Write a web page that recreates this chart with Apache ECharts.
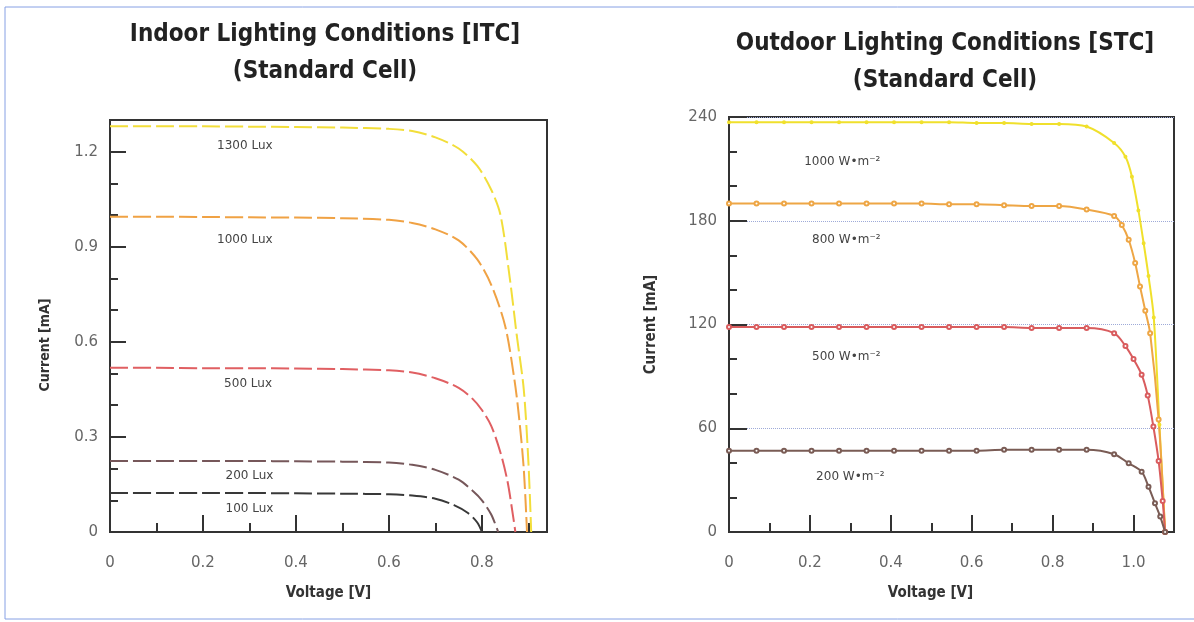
<!DOCTYPE html>
<html>
<head>
<meta charset="utf-8">
<script src="https://cdn.jsdelivr.net/npm/echarts@6/dist/echarts.min.js"></script>
<style>
  html, body { margin: 0; padding: 0; background: #fff; }
  #chart { width: 1194px; height: 622px; }
</style>
</head>
<body>
<div id="chart"></div>
<script>
// indoor (ITC) curves, voltage [V] / current [mA]
const itcNames = ['1300 Lux', '1000 Lux', '500 Lux', '200 Lux', '100 Lux']
const itcV1300 = [0, 0.1, 0.2, 0.3, 0.4, 0.5, 0.6, 0.65, 0.7, 0.75, 0.79, 0.82, 0.84, 0.86, 0.875, 0.89, 0.9, 0.906]
const itcI1300 = [1.28, 1.28, 1.28, 1.279, 1.278, 1.276, 1.272, 1.265, 1.245, 1.21, 1.155, 1.08, 1.0, 0.8, 0.62, 0.45, 0.22, 0]
const itcV1000 = [0, 0.1, 0.2, 0.3, 0.4, 0.5, 0.6, 0.65, 0.7, 0.75, 0.79, 0.82, 0.85, 0.87, 0.88, 0.89, 0.897]
const itcI1000 = [0.995, 0.995, 0.994, 0.993, 0.992, 0.99, 0.985, 0.975, 0.955, 0.92, 0.86, 0.78, 0.65, 0.48, 0.36, 0.2, 0]
const itcV500 = [0, 0.1, 0.2, 0.3, 0.4, 0.5, 0.6, 0.65, 0.7, 0.75, 0.78, 0.8, 0.82, 0.84, 0.855, 0.865, 0.872]
const itcI500 = [0.518, 0.518, 0.517, 0.517, 0.516, 0.514, 0.51, 0.503, 0.485, 0.455, 0.42, 0.385, 0.335, 0.25, 0.16, 0.07, 0]
const itcV200 = [0, 0.1, 0.2, 0.3, 0.4, 0.5, 0.6, 0.65, 0.7, 0.75, 0.78, 0.8, 0.82, 0.835]
const itcI200 = [0.224, 0.224, 0.224, 0.224, 0.223, 0.222, 0.219, 0.212, 0.196, 0.165, 0.13, 0.1, 0.055, 0]
const itcV100 = [0, 0.1, 0.2, 0.3, 0.4, 0.5, 0.6, 0.65, 0.7, 0.74, 0.77, 0.79, 0.8]
const itcI100 = [0.123, 0.123, 0.123, 0.123, 0.122, 0.121, 0.119, 0.115, 0.105, 0.085, 0.06, 0.03, 0]

// outdoor (STC) curves, measured points
const stcNames = ['1000 W•m⁻²', '800 W•m⁻²', '500 W•m⁻²', '200 W•m⁻²']
const stcVFlat = [0, 0.068, 0.136, 0.204, 0.272, 0.34, 0.408, 0.476, 0.544, 0.612, 0.68, 0.748, 0.816, 0.884, 0.952]
const stcV1000 = stcVFlat.concat([0.98, 0.996, 1.012, 1.025, 1.037, 1.05, 1.064, 1.078])
const stcI1000 = [237, 237, 237, 237, 237, 237, 237, 237, 237, 236.5, 236.5, 236, 236, 234.5, 225, 217, 205.5, 186, 167, 148, 124, 62, 0]
const stcV800 = stcVFlat.concat([0.971, 0.988, 1.004, 1.016, 1.029, 1.041, 1.062, 1.078])
const stcI800 = [190, 190, 190, 190, 190, 190, 190, 190, 189.5, 189.5, 189, 188.5, 188.5, 186.5, 182.8, 177.6, 169, 155.6, 142, 128, 115, 65, 0]
const stcV500 = stcVFlat.concat([0.98, 1.0, 1.02, 1.035, 1.049, 1.062, 1.072, 1.078])
const stcI500 = [118.5, 118.5, 118.5, 118.5, 118.5, 118.5, 118.5, 118.5, 118.5, 118.5, 118.5, 118, 118, 118, 115, 107.5, 100, 91, 79, 61, 41, 18, 0]
const stcV200 = stcVFlat.concat([0.988, 1.02, 1.037, 1.053, 1.066, 1.078])
const stcI200 = [47, 47, 47, 47, 47, 47, 47, 47, 47, 47, 47.5, 47.5, 47.5, 47.5, 45, 39.7, 34.9, 26.2, 16.6, 8.9, 0]

// curve label anchors (data space)
const itcLabelAt = [[0.29, 1.219], [0.29, 0.922], [0.297, 0.467], [0.3, 0.177], [0.3, 0.073]]
const stcLabelAt = [[0.28, 214], [0.29, 169], [0.29, 101], [0.3, 32]]

const itcColors = ['#f2de3a', '#f0a244', '#e05f62', '#76575a', '#383838']
const stcColors = ['#f0e02c', '#eea645', '#d95c5e', '#7a5c55']

const pairs = (xs, ys) => xs.map((x, i) => [x, ys[i]])
const itcData = [pairs(itcV1300, itcI1300), pairs(itcV1000, itcI1000), pairs(itcV500, itcI500), pairs(itcV200, itcI200), pairs(itcV100, itcI100)]
const stcData = [pairs(stcV1000, stcI1000), pairs(stcV800, stcI800), pairs(stcV500, stcI500), pairs(stcV200, stcI200)]

const chart = echarts.init(document.getElementById('chart'))

const tickFont = { color: '#666', fontSize: 15, fontFamily: '"DejaVu Sans", sans-serif' }
const nameFont = { color: '#333', fontSize: 15, fontWeight: 'bold', fontFamily: '"Liberation Sans Narrow", "DejaVu Sans Condensed", "Liberation Sans", sans-serif' }
const titleFont = { color: '#222', fontSize: 24, fontWeight: 'bold', lineHeight: 37, fontFamily: '"Liberation Sans Narrow", "DejaVu Sans Condensed", "Liberation Sans", sans-serif' }
const axisDark = { show: true, onZero: false, lineStyle: { color: '#333', width: 2 } }

const fmt = v => (v === 0 ? '0' : v.toFixed(1))

// major axis (labels, long ticks) + minor axis (short ticks) per grid
const majorX = (grid, max, name, namePad) => ({
    type: 'value', gridIndex: grid, position: 'bottom', min: 0, max: max, interval: 0.2,
    name: name, nameLocation: 'middle', nameGap: 54,
    nameTextStyle: Object.assign({ padding: namePad }, nameFont),
    axisLine: axisDark,
    axisTick: { show: true, inside: true, length: 17, lineStyle: { color: '#333', width: 2 } },
    axisLabel: Object.assign({ margin: 24, showMaxLabel: false, formatter: fmt }, tickFont),
    splitLine: { show: false }
})
const minorX = (grid, max) => ({
    type: 'value', gridIndex: grid, position: 'bottom', min: 0, max: max, interval: 0.1,
    axisLine: { show: false },
    axisTick: { show: true, inside: true, length: 9, lineStyle: { color: '#333', width: 2 } },
    axisLabel: { show: false },
    splitLine: { show: false }
})

const option = {
    backgroundColor: '#fff',
    animation: false,
    title: [
        { text: 'Indoor Lighting Conditions [ITC]\n(Standard Cell)', left: 320, top: 11, textAlign: 'center', textStyle: titleFont },
        { text: 'Outdoor Lighting Conditions [STC]\n(Standard Cell)', left: 940, top: 20, textAlign: 'center', textStyle: titleFont }
    ],
    graphic: [{
        type: 'rect', silent: true,
        shape: { x: 5, y: 7, width: 1220, height: 612 },
        style: { fill: 'none', stroke: '#86a0e4', lineWidth: 1 }
    }],
    grid: [
        { left: 110, top: 120, width: 437, height: 412, show: true, borderColor: '#333', borderWidth: 2, outerBoundsMode: 'none', containLabel: false },
        { left: 729, top: 117, width: 445, height: 415, show: true, borderColor: '#333', borderWidth: 2, outerBoundsMode: 'none', containLabel: false }
    ],
    xAxis: [
        majorX(0, 0.94, 'Voltage [V]', [0, 0, 0, 0]),
        minorX(0, 0.94),
        majorX(1, 1.1, 'Voltage [V]', [0, 42, 0, 0]),
        minorX(1, 1.1)
    ],
    yAxis: [
        {
            type: 'value', gridIndex: 0, position: 'left', min: 0, max: 1.3, interval: 0.3,
            name: 'Current [mA]', nameLocation: 'middle', nameGap: 58,
            nameTextStyle: Object.assign({ padding: [0, 38, 0, 0] }, nameFont, { fontSize: 14 }),
            axisLine: axisDark,
            axisTick: { show: true, inside: true, length: 16, lineStyle: { color: '#333', width: 2 } },
            axisLabel: Object.assign({ margin: 12, showMaxLabel: false, formatter: fmt }, tickFont),
            splitLine: { show: false }
        },
        {
            type: 'value', gridIndex: 0, position: 'left', min: 0, max: 1.3, interval: 0.1,
            axisLine: { show: false },
            axisTick: { show: true, inside: true, length: 8, lineStyle: { color: '#333', width: 2 } },
            axisLabel: { show: false },
            splitLine: { show: false }
        },
        {
            type: 'value', gridIndex: 1, position: 'left', min: 0, max: 240, interval: 60,
            name: 'Current [mA]', nameLocation: 'middle', nameGap: 70,
            nameTextStyle: Object.assign({}, nameFont, { fontSize: 15 }),
            axisLine: axisDark,
            axisTick: { show: true, inside: true, length: 18, lineStyle: { color: '#333', width: 2 } },
            axisLabel: Object.assign({ margin: 12 }, tickFont),
            splitLine: { show: true, lineStyle: { color: '#9eaad8', type: 'dotted', width: 1 } }
        },
        {
            type: 'value', gridIndex: 1, position: 'left', min: 0, max: 240, interval: 20,
            axisLine: { show: false },
            axisTick: { show: true, inside: true, length: 8, lineStyle: { color: '#333', width: 2 } },
            axisLabel: { show: false },
            splitLine: { show: false }
        }
    ],
    series: [
        ...itcData.map((d, i) => ({
            name: itcNames[i], type: 'line', xAxisIndex: 0, yAxisIndex: 0,
            data: d, smooth: 0.3, symbol: 'none',
            lineStyle: { color: itcColors[i], width: 2, type: [18, 5] },
            markPoint: {
                symbol: 'circle', symbolSize: 1, itemStyle: { color: 'rgba(0,0,0,0)' },
                label: { show: true, position: 'inside', formatter: itcNames[i], color: '#444', fontSize: 12, fontFamily: '"DejaVu Sans", sans-serif' },
                data: [{ coord: itcLabelAt[i] }]
            }
        })),
        ...stcData.map((d, i) => ({
            name: stcNames[i], type: 'line', xAxisIndex: 2, yAxisIndex: 2,
            data: d, smooth: 0.3, symbol: 'emptyCircle', symbolSize: i === 0 ? 2 : 4,
            itemStyle: { color: stcColors[i], borderWidth: 1 },
            lineStyle: { color: stcColors[i], width: 2 },
            markPoint: {
                symbol: 'circle', symbolSize: 1, itemStyle: { color: 'rgba(0,0,0,0)' },
                label: { show: true, position: 'inside', formatter: stcNames[i], color: '#444', fontSize: 12, fontFamily: '"DejaVu Sans", sans-serif' },
                data: [{ coord: stcLabelAt[i] }]
            }
        }))
    ]
}

chart.setOption(option)
</script>
</body>
</html>
